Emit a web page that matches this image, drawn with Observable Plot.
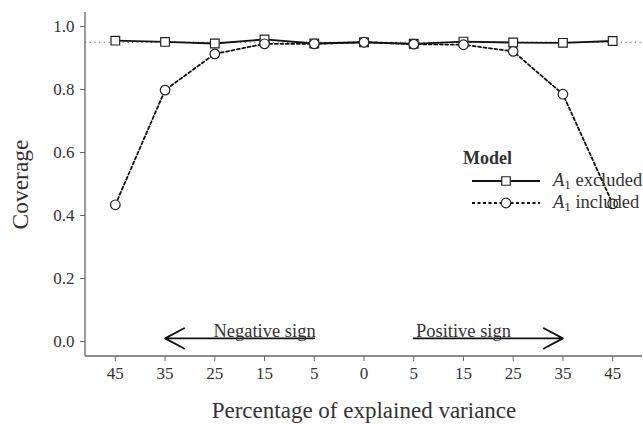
<!DOCTYPE html>
<html><head><meta charset="utf-8">
<script src="https://cdn.jsdelivr.net/npm/d3@7"></script>
<script src="https://cdn.jsdelivr.net/npm/@observablehq/plot@0.6"></script>
<style>
body{margin:0;background:#fff;}
#wrap{position:relative;width:643px;height:424px;font-family:"Liberation Serif",serif;}
#wrap svg, #wrap svg text, #wrap svg g{font-family:"Liberation Serif",serif !important;font-variant:normal !important;}
#legend{position:absolute;left:0;top:0;pointer-events:none;}
</style></head><body><div id="wrap"></div>
<script>
const xLabels = ["45","35","25","15","5","0","5","15","25","35","45"];
const excluded = [0.955,0.951,0.946,0.959,0.946,0.950,0.945,0.952,0.949,0.948,0.954];
const included = [0.434,0.798,0.913,0.945,0.945,0.950,0.944,0.942,0.921,0.785,0.437];
const seriesNames = ["excluded","included"];
const nominal = 0.95;
const yTicks = [0,0.2,0.4,0.6,0.8,1.0];
const arrowFrom = [4,6];
const arrowTo = [1,9];
const arrowLabelAt = [3,7];
const arrowText = ["Negative sign","Positive sign"];
const arrowY = 0.01;

const idx = xLabels.map((_, i) => i);
const exData = idx.map(i => ({i, v: excluded[i]}));
const inData = idx.map(i => ({i, v: included[i]}));
const arrows = arrowFrom.map((f, k) => ({from: f, to: arrowTo[k], at: arrowLabelAt[k], text: arrowText[k]}));

const W = 643, H = 424, mL = 85, mR = 1, mT = 12, mB = 68;
const font = '"Liberation Serif", serif';

const chart = Plot.plot({
  width: W, height: H,
  marginLeft: mL, marginRight: mR, marginTop: mT, marginBottom: mB,
  style: {fontFamily: font, fontSize: "17px", color: "#222", background: "white"},
  x: {type: "point", domain: idx, padding: 0.6, round: false},
  y: {domain: [-0.0476, 1.0444]},
  marks: [
    Plot.axisY({ticks: yTicks, tickFormat: d3.format(".1f"), tickSize: 5, tickPadding: 6, label: null, stroke: "#666", fill: "#333", fontSize: 17}),
    Plot.axisX({tickFormat: i => xLabels[i], tickSize: 5, tickPadding: 5, label: null, stroke: "#666", fill: "#333", fontSize: 17}),
    Plot.ruleY([nominal], {stroke: "#555", strokeDasharray: "1.2,3.5", strokeWidth: 1}),
    Plot.lineY(exData, {x: "i", y: "v", stroke: "#111", strokeWidth: 1.8}),
    Plot.lineY(inData, {x: "i", y: "v", stroke: "#111", strokeWidth: 1.8, strokeDasharray: "3,2.5"}),
    Plot.dot(exData, {x: "i", y: "v", symbol: "square", r: 4.9, stroke: "#222", strokeWidth: 1.2, fill: "white"}),
    Plot.dot(inData, {x: "i", y: "v", symbol: "circle", r: 4.8, stroke: "#222", strokeWidth: 1.2, fill: "white"}),
    Plot.arrow(arrows, {x1: "from", x2: "to", y1: () => arrowY, y2: () => arrowY, headLength: 18, headAngle: 56, stroke: "#111", strokeWidth: 1.8}),
    Plot.text(arrows, {x: "at", y: () => arrowY, text: "text", textAnchor: "middle", lineAnchor: "bottom", dy: -1, fontSize: 18.5, fill: "#333"}),
    Plot.text(["Coverage"], {frameAnchor: "left", text: d => d, rotate: -90, textAnchor: "middle", dx: -65, fontSize: 23.5, fill: "#333"}),
    Plot.text(["Percentage of explained variance"], {frameAnchor: "bottom", text: d => d, textAnchor: "middle", lineAnchor: "bottom", dy: 61, fontSize: 23, fill: "#333"})
  ]
});

const svg = d3.select(chart);
// axis lines
svg.append("line").attr("x1", mL).attr("x2", mL).attr("y1", mT).attr("y2", H - mB).attr("stroke", "#666").attr("stroke-width", 1.3);
svg.append("line").attr("x1", mL).attr("x2", W - mR).attr("y1", H - mB).attr("y2", H - mB).attr("stroke", "#666").attr("stroke-width", 1.3);

document.getElementById("wrap").appendChild(chart);

// legend overlay
const lg = d3.select("#wrap").append("svg").attr("id", "legend").attr("width", W).attr("height", H);
const g = lg.append("g").attr("transform", "translate(463,0)").style("font-family", font);
g.append("text").attr("x", 0).attr("y", 164).attr("font-size", 18).attr("font-weight", "bold").attr("fill", "#333").text("Model");
seriesNames.forEach((name, k) => {
  const y = 181 + k * 22;
  g.append("line").attr("x1", 9).attr("x2", 77).attr("y1", y).attr("y2", y)
    .attr("stroke", "#111").attr("stroke-width", 1.8).attr("stroke-dasharray", k === 0 ? null : "3,2.5");
  const sym = d3.symbol().type(k === 0 ? d3.symbolSquare : d3.symbolCircle).size(Math.PI * 4.8 * 4.8);
  g.append("path").attr("d", sym()).attr("transform", `translate(43,${y})`).attr("fill", "white").attr("stroke", "#222").attr("stroke-width", 1.2);
  const t = g.append("text").attr("x", 90).attr("y", y + 5).attr("font-size", 18.5).attr("fill", "#333");
  t.append("tspan").attr("font-style", "italic").text("A");
  t.append("tspan").attr("font-size", 13).attr("dy", 3).text("1");
  t.append("tspan").attr("dy", -3).text(" " + name);
});
</script></body></html>
